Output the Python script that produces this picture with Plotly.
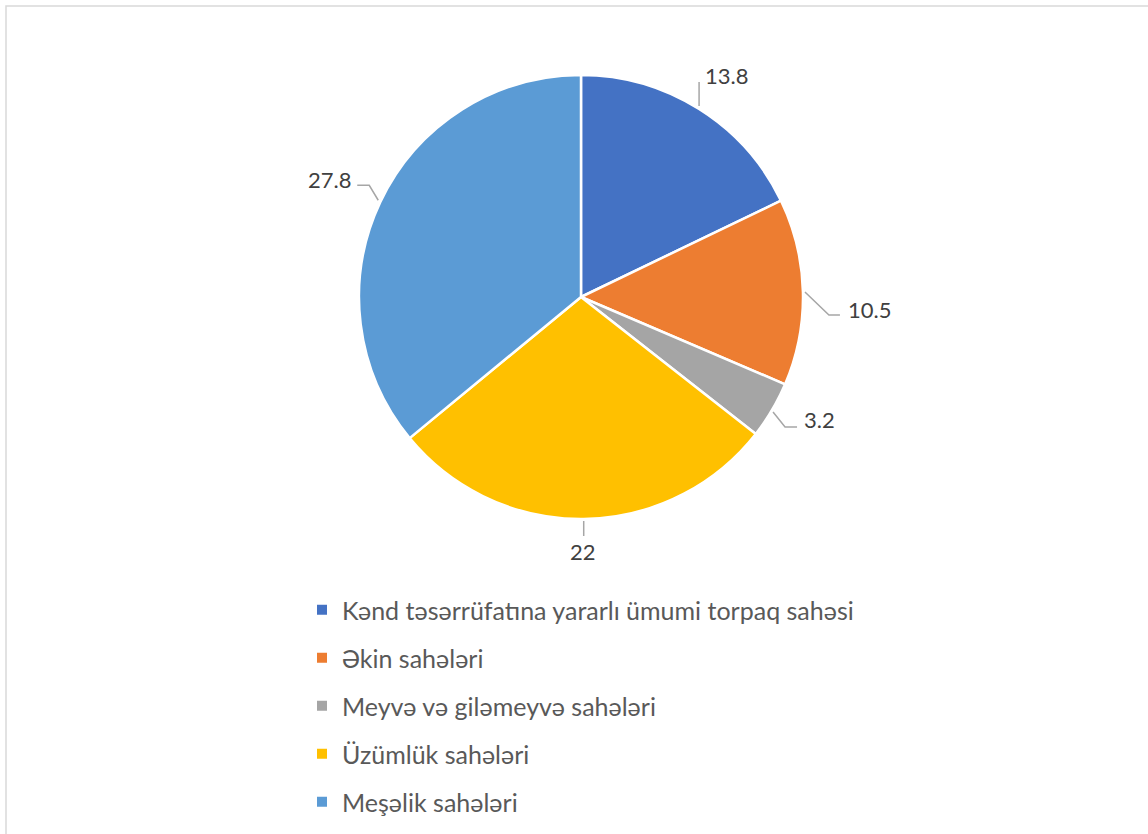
import math
import plotly.graph_objects as go

# ---- data ----
categories = [
    "Kənd təsərrüfatına yararlı ümumi torpaq sahəsi",
    "Əkin sahələri",
    "Meyvə və giləmeyvə sahələri",
    "Üzümlük sahələri",
    "Meşəlik sahələri",
]
values = [13.8, 10.5, 3.2, 22, 27.8]
value_labels = ["13.8", "10.5", "3.2", "22", "27.8"]

# ---- styles / layout ----
colors = ["#4472C4", "#ED7D31", "#A5A5A5", "#FFC000", "#5B9BD5"]
W, H = 1148, 834
CX, CY, R = 581, 297, 222  # pie centre / radius in px
FONT = "Lato"
LABEL_COLOR = "#404040"
LEGEND_COLOR = "#595959"
LINE_COLOR = "#A6A6A6"

# leader line paths (relative to slice edge point) and label offsets
leader_paths = [
    [(0, -3), (0, -27)],
    [(2, 0), (26, 23), (37, 23)],
    [(1, 2), (13, 17), (25, 17)],
    [(0, 2), (0, 17)],
    [(-2, -2), (-11, -17), (-23, -17)],
]
label_offsets = [(4, -34, "left"), (43, 17, "left"), (30, 9, "left"), (-1, 33, "center"), (-27, -23, "right")]

fig = go.Figure()

fig.add_trace(go.Pie(
    labels=categories,
    values=values,
    sort=False,
    direction="clockwise",
    rotation=0,
    marker=dict(colors=colors, line=dict(color="white", width=2.5)),
    textinfo="none",
    hoverinfo="label+value",
    showlegend=False,
    domain=dict(x=[(CX - R) / W, (CX + R) / W], y=[1 - (CY + R) / H, 1 - (CY - R) / H]),
))

# leader lines and value labels computed from slice mid-angles
total = sum(values)
cum = 0.0
annotations = []
for i, v in enumerate(values):
    mid = (cum + v / 2) / total * 2 * math.pi
    cum += v
    ex = CX + R * math.sin(mid)
    ey = CY - R * math.cos(mid)
    xs = [ex + dx for dx, dy in leader_paths[i]]
    ys = [ey + dy for dx, dy in leader_paths[i]]
    fig.add_trace(go.Scatter(
        x=xs, y=ys, mode="lines",
        line=dict(color=LINE_COLOR, width=1.5),
        hoverinfo="skip", showlegend=False,
    ))
    ox, oy, anchor = label_offsets[i]
    annotations.append(dict(
        x=ex + ox, y=ey + oy, xref="x", yref="y",
        text=value_labels[i], showarrow=False,
        xanchor=anchor, yanchor="middle",
        font=dict(family=FONT, size=22, color=LABEL_COLOR),
    ))

# legend entries
for i, c in enumerate(categories):
    fig.add_trace(go.Scatter(
        x=[None], y=[None], mode="markers", name=c,
        marker=dict(symbol="square", size=10, color=colors[i]),
        legendgroup=f"g{i}", showlegend=True,
    ))

fig.update_layout(
    width=W, height=H,
    margin=dict(l=0, r=0, t=0, b=0),
    paper_bgcolor="white",
    plot_bgcolor="rgba(0,0,0,0)",
    xaxis=dict(range=[0, W], visible=False, domain=[0, 1], fixedrange=True),
    yaxis=dict(range=[H, 0], visible=False, domain=[0, 1], fixedrange=True),
    showlegend=True,
    legend=dict(
        x=(321 - 19) / W, y=1 - 587 / H, xanchor="left", yanchor="top",
        font=dict(family=FONT, size=25, color=LEGEND_COLOR),
        tracegroupgap=12.5, bgcolor="rgba(0,0,0,0)",
    ),
    annotations=annotations,
    shapes=[dict(type="rect", xref="paper", yref="paper",
                 x0=6 / W, x1=1.02, y0=-0.02, y1=1 - 6 / H,
                 line=dict(color="#D9D9D9", width=1.5), fillcolor="rgba(0,0,0,0)")],
)

fig.write_html("out.html", config={"displayModeBar": False},
               post_script="document.body.style.margin='0';")
